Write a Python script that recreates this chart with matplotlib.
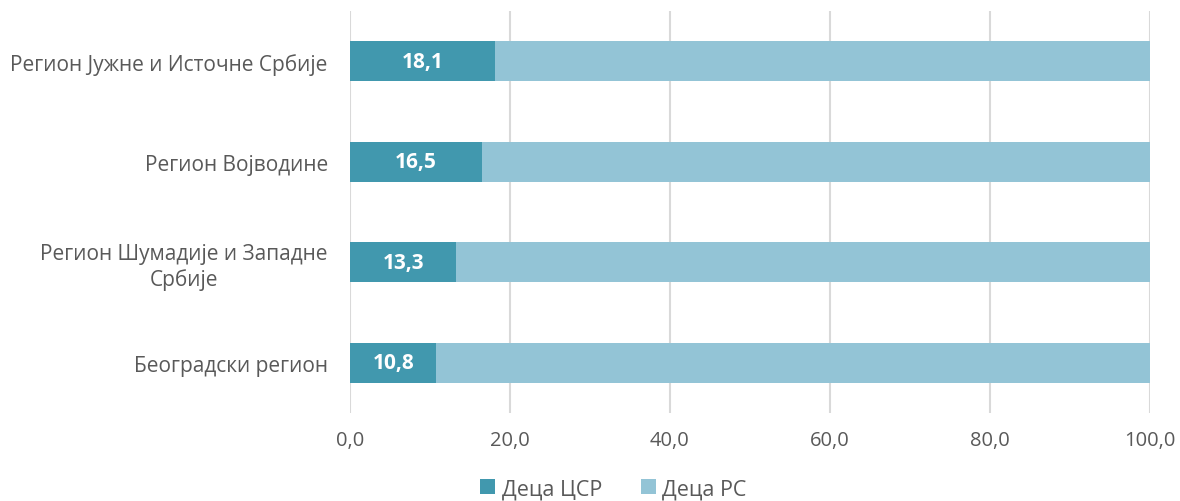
import matplotlib.pyplot as plt
import numpy as np

plt.rcParams['font.family'] = ['Open Sans', 'DejaVu Sans']

regions = ['Београдски регион', 'Регион Шумадије и Западне\nСрбије',
           'Регион Војводине', 'Регион Јужне и Источне Србије']
csr = [10.8, 13.3, 16.5, 18.1]
rs = [89.2, 86.7, 83.5, 81.9]
series_names = ['Деца ЦСР', 'Деца РС']
xticks = [0, 20, 40, 60, 80, 100]

c_dark = '#4198AE'
c_light = '#93C4D6'
grey = '#595959'

fig = plt.figure(figsize=(11.8, 5.02), dpi=100)
ax = fig.add_axes([350/1180, 1 - 414/502, 800/1180, 402/502])

y = np.arange(len(regions))
ax.barh(y, csr, height=0.4, color=c_dark, label=series_names[0], zorder=3)
ax.barh(y, rs, left=csr, height=0.4, color=c_light, label=series_names[1], zorder=3)

for yi, v in zip(y, csr):
    ax.text(v / 2, yi, f'{v:.1f}'.replace('.', ','), ha='center', va='center',
            color='white', fontsize=15, fontweight='bold', zorder=4)

ax.set_xlim(0, 100)
ax.set_ylim(-0.5, 3.5)
ax.set_xticks(xticks)
ax.set_xticklabels([f'{t:.1f}'.replace('.', ',') for t in xticks])
ax.set_yticks(y)
ax.set_yticklabels(regions, ha='right', multialignment='center')
ax.tick_params(axis='y', length=0, pad=16, labelsize=15, labelcolor=grey)
ax.tick_params(axis='x', length=0, pad=12, labelsize=14.5, labelcolor=grey)
ax.xaxis.grid(True, color='#D9D9D9', linewidth=1.5, zorder=0)
for s in ax.spines.values():
    s.set_visible(False)

fig.legend(loc='lower center', bbox_to_anchor=(0.52, -0.035), ncol=2, frameon=False,
           fontsize=15.5, labelcolor=grey, handlelength=0.7, handleheight=0.7,
           handletextpad=0.3, columnspacing=1.8)

fig.savefig('out.png', dpi=100)
